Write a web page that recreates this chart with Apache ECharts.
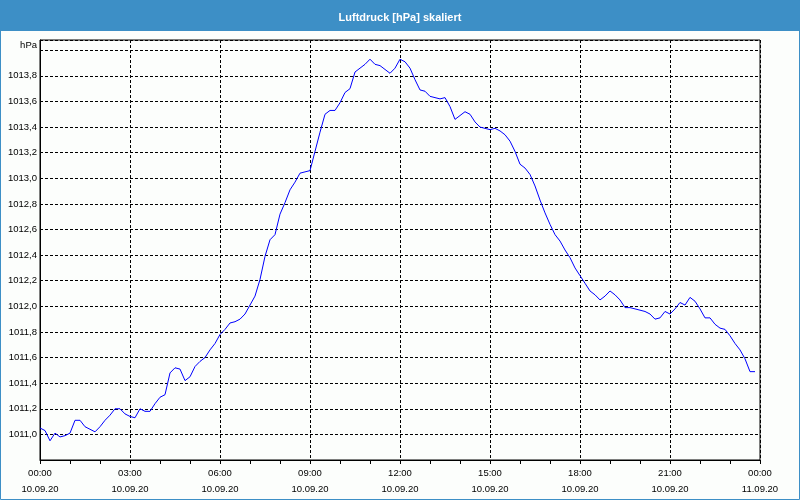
<!DOCTYPE html>
<html><head><meta charset="utf-8">
<script src="https://cdn.jsdelivr.net/npm/echarts@6/dist/echarts.min.js"></script>
<style>html,body{margin:0;padding:0;background:#fcfefc}#c{width:800px;height:500px}</style>
</head><body><div id="c"></div>
<script>
const chartTitle = 'Luftdruck [hPa] skaliert';
const unitLabel = 'hPa';
const sampleStepMinutes = 10; // one reading every 10 minutes from 10.09.20 00:00
const pressure = [
  1011.05,1011.03,1010.95,1011.01,1010.98,1010.99,1011.01,1011.11,1011.11,1011.06,
  1011.04,1011.02,1011.06,1011.11,1011.15,1011.20,1011.20,1011.16,1011.14,1011.13,
  1011.20,1011.18,1011.18,1011.24,1011.29,1011.31,1011.48,1011.52,1011.51,1011.42,
  1011.45,1011.53,1011.57,1011.60,1011.66,1011.71,1011.78,1011.82,1011.87,1011.88,
  1011.90,1011.94,1012.01,1012.08,1012.21,1012.39,1012.52,1012.56,1012.72,1012.81,
  1012.91,1012.97,1013.04,1013.05,1013.06,1013.21,1013.36,1013.50,1013.53,1013.53,
  1013.59,1013.67,1013.70,1013.83,1013.86,1013.89,1013.93,1013.89,1013.88,1013.85,
  1013.82,1013.86,1013.93,1013.91,1013.86,1013.77,1013.69,1013.68,1013.64,1013.63,
  1013.62,1013.63,1013.56,1013.46,1013.49,1013.52,1013.50,1013.44,1013.40,1013.39,
  1013.38,1013.39,1013.37,1013.34,1013.29,1013.21,1013.11,1013.08,1013.03,1012.94,
  1012.83,1012.73,1012.64,1012.56,1012.51,1012.44,1012.38,1012.30,1012.24,1012.18,
  1012.12,1012.09,1012.05,1012.08,1012.12,1012.09,1012.05,1011.99,1011.99,1011.98,
  1011.97,1011.96,1011.94,1011.90,1011.91,1011.96,1011.94,1011.98,1012.03,1012.01,
  1012.07,1012.04,1011.98,1011.91,1011.91,1011.86,1011.83,1011.82,1011.77,1011.71,
  1011.66,1011.59,1011.49,1011.49
];
const xTickTimes = ['00:00','03:00','06:00','09:00','12:00','15:00','18:00','21:00','00:00'];
const xTickDates = ['10.09.20','10.09.20','10.09.20','10.09.20','10.09.20','10.09.20','10.09.20','10.09.20','11.09.20'];

const FONT = 'Liberation Sans';
const chart = echarts.init(document.getElementById('c'), null, {renderer: 'canvas'});
chart.setOption({
  animation: false,
  backgroundColor: '#fcfefc',
  title: {
    text: chartTitle, left: 'center', top: 7, z: 10,
    textStyle: {color: '#ffffff', fontSize: 11, fontWeight: 'bold', fontFamily: FONT}
  },
  graphic: [
    {type: 'rect', z: 1, shape: {x: 0, y: 0, width: 800, height: 31}, style: {fill: '#3d8fc6'}},
    {type: 'rect', z: 1, shape: {x: 0.5, y: 0.5, width: 799, height: 499}, style: {fill: 'none', stroke: '#3d8fc6', lineWidth: 1}},
    {type: 'text', z: 5, x: 37, y: 45, style: {text: unitLabel, align: 'right', verticalAlign: 'middle', fill: '#000', font: '9.5px "' + FONT + '"'}}
  ],
  grid: {left: 40, right: 40, top: 40, bottom: 40, show: true, borderColor: '#000', borderWidth: 1, backgroundColor: 'transparent'},
  xAxis: {
    type: 'value', min: 0, max: 1440, interval: 180,
    axisLine: {show: true, lineStyle: {color: '#000', width: 1}},
    axisTick: {show: true, length: 4, lineStyle: {color: '#000'}},
    minorTick: {show: true, splitNumber: 3, length: 4, lineStyle: {color: '#000'}},
    splitLine: {show: true, lineStyle: {color: '#000', type: [3, 2], width: 1}},
    axisLabel: {
      margin: 5, color: '#000', fontSize: 9.5, fontFamily: FONT, lineHeight: 16,
      formatter: function (v) { const i = Math.round(v / 180); return xTickTimes[i] + '\n' + xTickDates[i]; }
    }
  },
  yAxis: {
    type: 'value', min: 1010.8, max: 1014.08, interval: 0.2,
    axisLine: {show: true, lineStyle: {color: '#000', width: 1}},
    axisTick: {show: false},
    splitLine: {show: true, lineStyle: {color: '#000', type: [3, 2], width: 1}},
    axisLabel: {
      margin: 3, color: '#000', fontSize: 9.5, fontFamily: FONT,
      showMinLabel: false, showMaxLabel: false,
      formatter: function (v) {
        if (v < 1010.85 || v > 1013.95) return '';
        return v.toFixed(1).replace('.', ',');
      }
    }
  },
  series: [{
    type: 'line', showSymbol: false, symbol: 'none',
    lineStyle: {color: '#0000ff', width: 1},
    data: pressure.map(function (v, i) { return [i * sampleStepMinutes, v]; })
  }]
});
</script></body></html>
